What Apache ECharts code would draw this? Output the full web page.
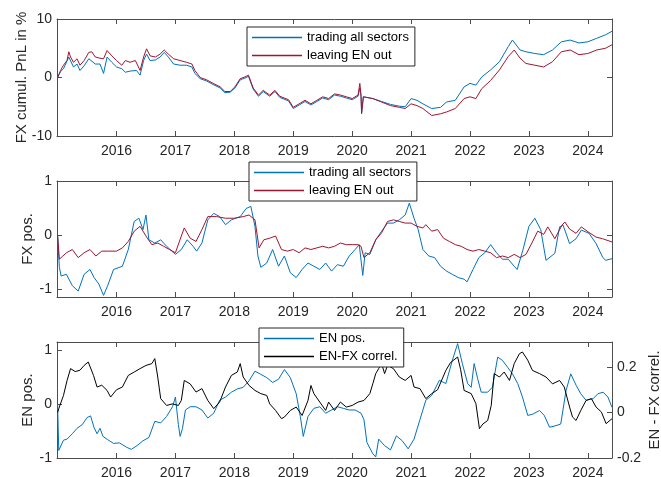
<!DOCTYPE html>
<html>
<head>
<meta charset="utf-8">
<script src="https://cdn.jsdelivr.net/npm/echarts@6/dist/echarts.min.js"></script>
<style>
  html, body { margin: 0; padding: 0; background: #fff; }
  #chart { width: 661px; height: 477px; }
</style>
</head>
<body>
<div id="chart"></div>
<script>
const yearTicks = [2016, 2017, 2018, 2019, 2020, 2021, 2022, 2023, 2024];
const pnlTicks = [-10, 0, 10];
const posTicks = [-1, 0, 1];
const corrTicks = [-0.2, 0, 0.2];

// legend texts; the series ids stay unique so the two upper legends don't mix colours
const labels = {
  pnlAll: 'trading all sectors',
  pnlExEN: 'leaving EN out',
  posAll: 'trading all sectors',
  posExEN: 'leaving EN out',
  enPos: 'EN pos.',
  enFxCorr: 'EN-FX correl.'
};

// panel 1: cumulative FX PnL (in %), [year, value]
const pnlAll = [
  [2015.00, 0.0], [2015.05, 1.0], [2015.10, 1.5], [2015.19, 3.5], [2015.27, 1.8], [2015.33, 2.3],
  [2015.38, 1.2], [2015.45, 2.0], [2015.53, 3.2], [2015.64, 2.3], [2015.72, 2.3], [2015.78, 0.7],
  [2015.84, 3.5], [2015.92, 2.6], [2016.00, 1.8], [2016.09, 1.5], [2016.15, 0.9], [2016.23, 1.1],
  [2016.34, 1.2], [2016.40, 0.4], [2016.46, 2.9], [2016.51, 4.0], [2016.57, 2.9], [2016.66, 3.0],
  [2016.74, 3.5], [2016.81, 4.3], [2016.88, 3.5], [2016.97, 2.3], [2017.08, 2.1], [2017.19, 2.1],
  [2017.28, 1.8], [2017.33, 0.7], [2017.42, -0.2], [2017.53, -0.6], [2017.64, -1.2], [2017.76, -1.8],
  [2017.84, -2.6], [2017.93, -2.5], [2018.01, -1.8], [2018.10, -0.4], [2018.18, -0.1], [2018.24, 0.2],
  [2018.32, -2.0], [2018.41, -3.2], [2018.49, -2.4], [2018.60, -3.2], [2018.69, -2.4], [2018.77, -3.4],
  [2018.92, -4.0], [2019.00, -5.3], [2019.10, -4.7], [2019.20, -4.1], [2019.30, -4.7], [2019.40, -4.1],
  [2019.50, -3.5], [2019.60, -3.8], [2019.70, -3.0], [2019.80, -3.2], [2019.90, -3.5], [2020.00, -3.8],
  [2020.10, -3.2], [2020.13, -1.8], [2020.15, -3.2], [2020.16, -6.0], [2020.19, -3.3], [2020.35, -3.6],
  [2020.50, -4.1], [2020.65, -4.6], [2020.80, -4.9], [2020.90, -5.0], [2021.00, -3.6], [2021.10, -3.9],
  [2021.20, -4.5], [2021.35, -5.3], [2021.50, -5.1], [2021.60, -4.2], [2021.75, -3.9], [2021.90, -1.6],
  [2022.00, -1.0], [2022.10, -1.3], [2022.20, 0.1], [2022.35, 1.3], [2022.50, 2.7], [2022.65, 5.3],
  [2022.72, 6.4], [2022.85, 4.7], [2022.95, 4.4], [2023.10, 4.1], [2023.25, 3.9], [2023.40, 4.7],
  [2023.55, 6.1], [2023.70, 6.4], [2023.85, 5.9], [2024.00, 6.1], [2024.15, 6.7], [2024.30, 7.3],
  [2024.41, 7.9]
];
const pnlExEN = [
  [2015.00, 0.0], [2015.05, 1.2], [2015.10, 2.1], [2015.16, 2.9], [2015.19, 4.4], [2015.22, 3.5],
  [2015.27, 2.6], [2015.33, 3.2], [2015.38, 2.1], [2015.45, 2.9], [2015.53, 4.3], [2015.58, 4.4],
  [2015.64, 3.5], [2015.72, 3.3], [2015.78, 3.2], [2015.84, 4.6], [2015.87, 4.9], [2015.92, 3.7],
  [2016.00, 2.9], [2016.09, 2.1], [2016.15, 2.9], [2016.23, 2.6], [2016.32, 2.9], [2016.40, 1.2],
  [2016.46, 3.5], [2016.51, 4.9], [2016.57, 3.7], [2016.66, 3.5], [2016.74, 4.0], [2016.81, 4.7],
  [2016.88, 4.0], [2016.97, 3.2], [2017.08, 2.9], [2017.19, 2.6], [2017.28, 2.3], [2017.33, 1.2],
  [2017.42, 0.0], [2017.53, -0.4], [2017.64, -1.0], [2017.76, -1.6], [2017.84, -2.4], [2017.93, -2.4],
  [2018.01, -1.6], [2018.10, -0.2], [2018.18, 0.1], [2018.24, 0.4], [2018.32, -1.8], [2018.41, -3.0],
  [2018.49, -2.2], [2018.60, -3.0], [2018.69, -2.2], [2018.77, -3.2], [2018.92, -3.8], [2019.00, -5.1],
  [2019.10, -4.5], [2019.20, -3.9], [2019.30, -4.5], [2019.40, -3.9], [2019.50, -3.3], [2019.60, -3.6],
  [2019.70, -2.8], [2019.80, -3.0], [2019.90, -3.3], [2020.00, -3.6], [2020.10, -3.0], [2020.13, -1.0],
  [2020.15, -3.0], [2020.16, -6.2], [2020.19, -3.3], [2020.35, -3.6], [2020.50, -4.2], [2020.65, -4.8],
  [2020.80, -5.1], [2020.90, -5.3], [2021.00, -4.5], [2021.10, -4.8], [2021.20, -5.3], [2021.35, -6.5],
  [2021.50, -6.2], [2021.60, -5.9], [2021.75, -5.3], [2021.90, -3.6], [2022.00, -3.3], [2022.10, -3.6],
  [2022.20, -1.9], [2022.35, -0.5], [2022.50, 1.3], [2022.65, 3.6], [2022.75, 4.7], [2022.85, 3.3],
  [2022.95, 2.4], [2023.10, 2.1], [2023.25, 1.8], [2023.40, 2.7], [2023.55, 4.4], [2023.70, 4.7],
  [2023.85, 3.9], [2024.00, 4.1], [2024.15, 4.7], [2024.30, 5.0], [2024.41, 5.6]
];

// panel 2: FX position
const fxPosAll = [
  [2015.00, 0.0], [2015.03, -0.60], [2015.06, -0.76], [2015.15, -0.73], [2015.25, -0.94], [2015.35, -1.04],
  [2015.45, -0.73], [2015.55, -0.64], [2015.62, -0.79], [2015.70, -0.91], [2015.78, -1.12], [2015.85, -0.94],
  [2015.95, -0.64], [2016.10, -0.58], [2016.20, -0.27], [2016.30, 0.25], [2016.38, 0.31], [2016.45, 0.10],
  [2016.50, 0.37], [2016.55, -0.09], [2016.65, -0.15], [2016.75, -0.09], [2016.85, -0.21], [2017.00, -0.36],
  [2017.10, -0.27], [2017.20, -0.09], [2017.30, -0.21], [2017.36, -0.30], [2017.45, -0.15], [2017.55, 0.28],
  [2017.65, 0.40], [2017.75, 0.34], [2017.85, 0.19], [2017.95, 0.28], [2018.10, 0.34], [2018.20, 0.49],
  [2018.28, 0.53], [2018.35, 0.16], [2018.40, -0.39], [2018.45, -0.60], [2018.55, -0.52], [2018.65, -0.27],
  [2018.75, -0.58], [2018.85, -0.39], [2018.95, -0.70], [2019.05, -0.79], [2019.15, -0.64], [2019.25, -0.52],
  [2019.35, -0.58], [2019.45, -0.64], [2019.55, -0.52], [2019.65, -0.67], [2019.75, -0.55], [2019.85, -0.58],
  [2019.95, -0.39], [2020.05, -0.27], [2020.12, -0.18], [2020.18, -0.75], [2020.22, -0.33], [2020.30, -0.36],
  [2020.40, -0.09], [2020.50, 0.07], [2020.60, 0.22], [2020.70, 0.22], [2020.80, 0.28], [2020.90, 0.37],
  [2020.97, 0.59], [2021.05, 0.31], [2021.12, 0.10], [2021.20, -0.27], [2021.30, -0.39], [2021.40, -0.42],
  [2021.50, -0.58], [2021.60, -0.67], [2021.70, -0.73], [2021.80, -0.79], [2021.90, -0.82], [2021.95, -0.87],
  [2022.05, -0.64], [2022.15, -0.42], [2022.25, -0.33], [2022.35, -0.18], [2022.45, -0.33], [2022.55, -0.45],
  [2022.65, -0.45], [2022.75, -0.58], [2022.80, -0.64], [2022.90, -0.27], [2023.00, 0.16], [2023.10, 0.31],
  [2023.20, 0.10], [2023.29, -0.47], [2023.44, -0.34], [2023.52, 0.15], [2023.58, 0.18], [2023.69, -0.16],
  [2023.80, -0.07], [2023.89, 0.09], [2024.02, 0.03], [2024.14, -0.16], [2024.25, -0.41], [2024.30, -0.47],
  [2024.41, -0.44]
];
const fxPosExEN = [
  [2015.00, 0.0], [2015.03, -0.45], [2015.08, -0.40], [2015.15, -0.33], [2015.25, -0.27], [2015.35, -0.42],
  [2015.45, -0.33], [2015.55, -0.27], [2015.65, -0.39], [2015.75, -0.30], [2015.85, -0.30], [2016.00, -0.30],
  [2016.10, -0.24], [2016.20, -0.12], [2016.30, 0.07], [2016.40, 0.16], [2016.50, -0.02], [2016.60, -0.18],
  [2016.70, -0.15], [2016.80, -0.21], [2016.90, -0.27], [2017.00, -0.33], [2017.10, -0.02], [2017.15, 0.13],
  [2017.25, -0.06], [2017.35, -0.12], [2017.45, 0.10], [2017.55, 0.34], [2017.70, 0.34], [2017.85, 0.31],
  [2018.00, 0.31], [2018.15, 0.34], [2018.25, 0.37], [2018.35, 0.28], [2018.42, -0.24], [2018.50, -0.09],
  [2018.60, -0.06], [2018.70, -0.02], [2018.80, -0.27], [2018.90, -0.30], [2019.00, -0.27], [2019.10, -0.33],
  [2019.20, -0.24], [2019.30, -0.27], [2019.40, -0.24], [2019.50, -0.21], [2019.60, -0.24], [2019.70, -0.21],
  [2019.80, -0.15], [2019.90, -0.18], [2020.00, -0.18], [2020.10, -0.18], [2020.15, -0.21], [2020.20, -0.42],
  [2020.30, -0.33], [2020.40, -0.09], [2020.50, 0.04], [2020.60, 0.25], [2020.70, 0.28], [2020.80, 0.25],
  [2020.90, 0.22], [2021.00, 0.22], [2021.10, 0.16], [2021.20, 0.13], [2021.25, 0.19], [2021.35, 0.07],
  [2021.45, 0.10], [2021.55, -0.06], [2021.65, -0.12], [2021.75, -0.18], [2021.85, -0.21], [2021.95, -0.27],
  [2022.05, -0.30], [2022.15, -0.27], [2022.25, -0.30], [2022.35, -0.33], [2022.45, -0.42], [2022.55, -0.39],
  [2022.65, -0.42], [2022.75, -0.36], [2022.85, -0.42], [2022.95, -0.36], [2023.05, -0.15], [2023.15, 0.07],
  [2023.25, 0.01], [2023.32, 0.15], [2023.44, -0.07], [2023.56, 0.18], [2023.61, 0.24], [2023.69, 0.11],
  [2023.80, 0.03], [2023.89, 0.15], [2024.00, 0.06], [2024.14, -0.04], [2024.25, -0.07], [2024.41, -0.13]
];

// panel 3: EN position (left) and EN-FX correlation (right)
const enPos = [
  [2015.00, 0.0], [2015.02, -0.86], [2015.10, -0.67], [2015.16, -0.65], [2015.25, -0.55], [2015.33, -0.45],
  [2015.42, -0.38], [2015.50, -0.25], [2015.56, -0.22], [2015.62, -0.44], [2015.67, -0.55], [2015.72, -0.45],
  [2015.77, -0.60], [2015.85, -0.66], [2015.95, -0.73], [2016.05, -0.72], [2016.17, -0.80], [2016.25, -0.84],
  [2016.35, -0.77], [2016.45, -0.68], [2016.55, -0.62], [2016.65, -0.32], [2016.75, -0.35], [2016.85, -0.23],
  [2016.95, -0.05], [2017.00, 0.13], [2017.05, -0.38], [2017.08, -0.60], [2017.12, -0.45], [2017.17, -0.11],
  [2017.25, -0.05], [2017.35, -0.05], [2017.45, -0.11], [2017.55, -0.26], [2017.65, -0.17], [2017.75, 0.07],
  [2017.85, 0.13], [2017.95, 0.22], [2018.05, 0.28], [2018.15, 0.31], [2018.25, 0.43], [2018.35, 0.61],
  [2018.45, 0.55], [2018.55, 0.49], [2018.65, 0.40], [2018.75, 0.46], [2018.85, 0.64], [2018.95, 0.49],
  [2019.05, 0.19], [2019.12, -0.23], [2019.17, -0.60], [2019.25, -0.23], [2019.35, -0.08], [2019.45, -0.05],
  [2019.55, -0.17], [2019.65, -0.11], [2019.75, -0.05], [2019.85, -0.08], [2019.95, -0.11], [2020.05, -0.11],
  [2020.15, -0.17], [2020.20, -0.29], [2020.25, -0.71], [2020.35, -0.92], [2020.40, -0.98], [2020.45, -0.65],
  [2020.55, -0.77], [2020.65, -0.85], [2020.75, -0.59], [2020.85, -0.68], [2020.95, -0.83], [2021.05, -0.65],
  [2021.15, -0.29], [2021.25, 0.07], [2021.35, 0.16], [2021.48, 0.44], [2021.59, 0.38], [2021.70, 0.81],
  [2021.79, 1.12], [2021.87, 0.75], [2021.96, 0.38], [2022.02, 0.31], [2022.07, 0.75], [2022.13, 0.47],
  [2022.19, 0.22], [2022.30, 0.22], [2022.38, 0.31], [2022.47, 0.87], [2022.55, 0.81], [2022.64, 0.68],
  [2022.72, 0.56], [2022.81, 0.38], [2022.89, 0.13], [2022.98, -0.21], [2023.06, -0.19], [2023.18, -0.12],
  [2023.26, -0.21], [2023.35, -0.43], [2023.46, -0.40], [2023.54, -0.37], [2023.63, 0.25], [2023.71, 0.56],
  [2023.80, 0.35], [2023.88, 0.19], [2023.97, 0.07], [2024.09, 0.10], [2024.17, 0.19], [2024.26, 0.22],
  [2024.34, 0.13], [2024.41, -0.06]
];
const enFxCorr = [
  [2015.00, 0.000], [2015.02, 0.017], [2015.10, 0.075], [2015.16, 0.140], [2015.22, 0.193], [2015.30, 0.180],
  [2015.38, 0.186], [2015.45, 0.207], [2015.52, 0.222], [2015.61, 0.163], [2015.67, 0.112], [2015.75, 0.120],
  [2015.84, 0.097], [2015.90, 0.068], [2016.00, 0.100], [2016.10, 0.112], [2016.20, 0.163], [2016.30, 0.178],
  [2016.40, 0.193], [2016.50, 0.207], [2016.60, 0.215], [2016.65, 0.237], [2016.70, 0.156], [2016.75, 0.061],
  [2016.85, 0.031], [2016.95, 0.038], [2017.05, 0.031], [2017.10, 0.053], [2017.15, 0.141], [2017.25, 0.126],
  [2017.35, 0.090], [2017.45, 0.105], [2017.55, 0.053], [2017.65, 0.017], [2017.75, 0.046], [2017.85, 0.112],
  [2017.95, 0.163], [2018.05, 0.178], [2018.10, 0.215], [2018.15, 0.156], [2018.25, 0.119], [2018.35, 0.097],
  [2018.45, 0.083], [2018.55, 0.075], [2018.60, 0.038], [2018.70, 0.009], [2018.80, -0.027], [2018.85, -0.020],
  [2018.95, 0.009], [2019.05, 0.024], [2019.15, -0.013], [2019.25, 0.053], [2019.30, 0.119], [2019.35, 0.083],
  [2019.45, 0.046], [2019.55, 0.009], [2019.60, 0.046], [2019.70, 0.009], [2019.80, 0.046], [2019.90, 0.024],
  [2020.00, 0.031], [2020.10, 0.046], [2020.20, 0.053], [2020.30, 0.083], [2020.35, 0.126], [2020.40, 0.171],
  [2020.45, 0.193], [2020.50, 0.215], [2020.55, 0.171], [2020.60, 0.207], [2020.70, 0.193], [2020.80, 0.156],
  [2020.90, 0.141], [2021.00, 0.163], [2021.05, 0.112], [2021.15, 0.105], [2021.25, 0.061], [2021.35, 0.083],
  [2021.45, 0.100], [2021.59, 0.185], [2021.67, 0.220], [2021.79, 0.244], [2021.84, 0.190], [2021.90, 0.097],
  [2022.02, 0.083], [2022.10, 0.039], [2022.16, -0.071], [2022.22, -0.050], [2022.30, -0.035], [2022.36, 0.031],
  [2022.41, 0.171], [2022.50, 0.156], [2022.58, 0.178], [2022.67, 0.141], [2022.75, 0.215], [2022.84, 0.259],
  [2022.89, 0.266], [2022.98, 0.230], [2023.06, 0.185], [2023.18, 0.171], [2023.29, 0.156], [2023.40, 0.126],
  [2023.52, 0.141], [2023.60, 0.112], [2023.69, 0.024], [2023.74, -0.020], [2023.80, -0.035], [2023.88, 0.009],
  [2023.97, 0.053], [2024.06, 0.061], [2024.14, 0.024], [2024.23, 0.002], [2024.31, -0.049], [2024.41, -0.027]
];

const xMin = 2014.99;
const xMax = 2024.41;

const font = "'Liberation Sans', Arial, Helvetica, sans-serif";
const axisColor = '#262626';
const boxColor = '#4d4d4d';
const blue = '#0072BD';
const red = '#A2142F';
const black = '#000000';
// thin bar used as legend key, so no marker circle shows
const keyIcon = 'path://M0,0H50V1.4H0Z';

const chart = echarts.init(document.getElementById('chart'));

const makeX = (gridIndex, position) => ({
  type: 'value',
  gridIndex,
  position,
  min: xMin,
  max: xMax,
  axisLine: { show: true, onZero: false, lineStyle: { color: boxColor, width: 1 } },
  axisTick: { show: true, inside: true, length: 5, customValues: yearTicks, lineStyle: { color: boxColor } },
  axisLabel: {
    show: position === 'bottom',
    customValues: yearTicks,
    margin: 8,
    fontSize: 14,
    fontFamily: font,
    color: axisColor,
    formatter: (v) => String(v)
  },
  splitLine: { show: false }
});

const makeY = (gridIndex, position, min, max, ticks, name, nameGap, showLabel) => ({
  type: 'value',
  gridIndex,
  position,
  min,
  max,
  name,
  nameLocation: 'middle',
  nameGap,
  nameRotate: 90,
  nameMoveOverlap: false,
  nameTextStyle: { fontSize: 15, fontFamily: font, color: axisColor },
  axisLine: { show: true, onZero: false, lineStyle: { color: boxColor, width: 1 } },
  axisTick: { show: true, inside: true, length: 5, customValues: ticks, lineStyle: { color: boxColor } },
  axisLabel: {
    show: showLabel,
    customValues: ticks,
    margin: 5,
    fontSize: 14,
    fontFamily: font,
    color: axisColor
  },
  splitLine: { show: false }
});

const legendItem = (name, color) => ({
  name,
  icon: keyIcon,
  itemStyle: { color, borderWidth: 0, opacity: 1 }
});

const legendBox = (left, top, items) => ({
  data: items,
  left,
  top,
  z: 20,
  orient: 'vertical',
  itemWidth: 50,
  itemHeight: 14,
  itemGap: 5,
  padding: [4, 6, 4, 5],
  backgroundColor: '#fff',
  borderColor: axisColor,
  borderWidth: 1,
  borderRadius: 0,
  selectedMode: false,
  formatter: (name) => labels[name],
  textStyle: { fontSize: 13, fontFamily: font, color: '#000' }
});

const line = (name, data, color, xi, yi) => ({
  name,
  type: 'line',
  data,
  xAxisIndex: xi,
  yAxisIndex: yi,
  z: 2,
  symbol: 'none',
  lineStyle: { width: 1, color },
  itemStyle: { color }
});

const option = {
  animation: false,
  backgroundColor: '#fff',
  grid: [
    { left: 57, top: 19, width: 555, height: 117, outerBoundsMode: 'none', containLabel: false },
    { left: 57, top: 181, width: 555, height: 116, outerBoundsMode: 'none', containLabel: false },
    { left: 57, top: 342, width: 555, height: 116, outerBoundsMode: 'none', containLabel: false }
  ],
  xAxis: [
    makeX(0, 'bottom'), makeX(0, 'top'),
    makeX(1, 'bottom'), makeX(1, 'top'),
    makeX(2, 'bottom'), makeX(2, 'top')
  ],
  yAxis: [
    makeY(0, 'left', -10, 10, pnlTicks, 'FX cumul. PnL in %', 28, true),
    makeY(0, 'right', -10, 10, pnlTicks, '', 0, false),
    makeY(1, 'left', -1.15, 1, posTicks, 'FX pos.', 22, true),
    makeY(1, 'right', -1.15, 1, posTicks, '', 0, false),
    makeY(2, 'left', -1, 1.15, posTicks, 'EN pos.', 22, true),
    makeY(2, 'right', -0.2, 0.31, corrTicks, 'EN - FX correl.', 35, true)
  ],
  legend: [
    legendBox(247, 27, [legendItem('pnlAll', blue), legendItem('pnlExEN', red)]),
    legendBox(249, 162, [legendItem('posAll', blue), legendItem('posExEN', red)]),
    legendBox(259, 328, [legendItem('enPos', blue), legendItem('enFxCorr', black)])
  ],
  series: [
    line('pnlAll', pnlAll, blue, 0, 0),
    line('pnlExEN', pnlExEN, red, 0, 0),
    line('posAll', fxPosAll, blue, 2, 2),
    line('posExEN', fxPosExEN, red, 2, 2),
    line('enPos', enPos, blue, 4, 4),
    line('enFxCorr', enFxCorr, black, 4, 5)
  ]
};

chart.setOption(option);
</script>
</body>
</html>
